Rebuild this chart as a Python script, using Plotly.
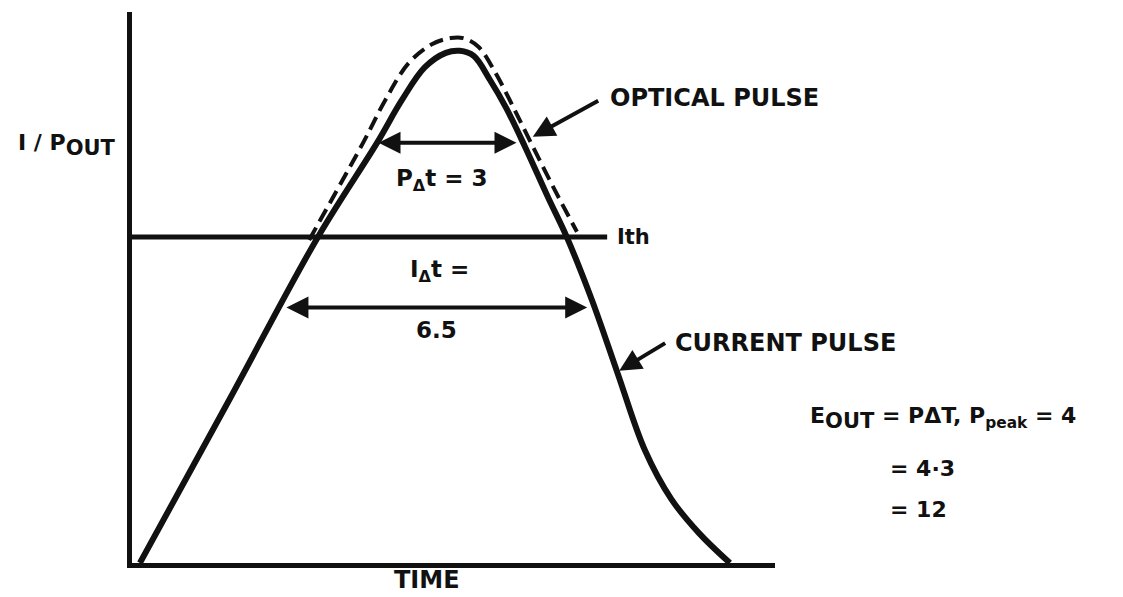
import plotly.graph_objects as go

# pulse shapes (time units, arbitrary current/power units)
current_t = [0.17, 2.09, 4.00, 5.27, 5.80, 6.30, 6.75, 7.05, 7.35, 7.70, 8.05, 8.45,
             8.95, 9.35, 9.89, 10.45, 11.03, 11.60, 12.20, 12.86]
current_i = [0.0, 3.19, 6.38, 8.22, 9.05, 9.70, 9.98, 10.02, 9.92, 9.45, 8.90, 8.15,
             7.15, 6.38, 5.15, 3.70, 2.21, 1.25, 0.58, 0.0]

optical_t = [3.81, 4.97, 5.45, 5.95, 6.45, 6.85, 7.12, 7.45, 7.80, 8.20, 8.62,
             9.12, 9.57]
optical_p = [6.32, 8.22, 9.06, 9.78, 10.15, 10.27, 10.27, 10.10, 9.62, 8.92, 8.15,
             7.25, 6.48]

ith_level = 6.38
ith_end = 10.22

p_start, p_dt, p_level = 5.27, 3.0, 8.22
i_start, i_dt, i_level = 3.29, 6.5, 5.0

x_max = 13.83
y_max = 10.78

FONT = "DejaVu Sans"
BLACK = "#111111"

fig = go.Figure()

fig.add_trace(go.Scatter(
    x=optical_t, y=optical_p, mode="lines",
    line=dict(color=BLACK, width=4, dash="14px,7px", shape="spline", smoothing=1.0),
    hoverinfo="skip"
))
fig.add_trace(go.Scatter(
    x=current_t, y=current_i, mode="lines",
    line=dict(color=BLACK, width=6, shape="spline", smoothing=1.0),
    hoverinfo="skip"
))
fig.add_trace(go.Scatter(
    x=[0, ith_end], y=[ith_level, ith_level], mode="lines",
    line=dict(color=BLACK, width=5), hoverinfo="skip"
))


def txt(x, y, text, size=22, xanchor="center", yanchor="middle"):
    # paper coordinates so labels outside the axes still show
    fig.add_annotation(x=x / x_max, y=y / y_max, xref="paper", yref="paper", text=text,
                       showarrow=False, xanchor=xanchor, yanchor=yanchor,
                       font=dict(family=FONT, size=size, color=BLACK, weight="bold"))


def arrow(x0, y0, x1, y1, both=False):
    fig.add_annotation(x=x1, y=y1, ax=x0, ay=y0, xref="x", yref="y", axref="x", ayref="y",
                       text="", showarrow=True, arrowhead=2, arrowsize=1.1, arrowwidth=4,
                       arrowcolor=BLACK, arrowside="end+start" if both else "end")


# width arrows
arrow(p_start, p_level, p_start + p_dt, p_level, both=True)
arrow(i_start, i_level, i_start + i_dt, i_level, both=True)

txt(6.67, 7.50, "P<sub>Δ</sub>t = 3", size=23)
txt(6.62, 5.72, "I<sub>Δ</sub>t =", size=23)
txt(6.56, 4.56, "6.5", size=23)

txt(ith_end + 0.17, ith_level, "Ith", size=21, xanchor="left")

# pointer labels
arrow(10.06, 9.06, 8.62, 8.34)
txt(10.24, 9.10, "OPTICAL PULSE", size=24, xanchor="left")
arrow(11.50, 4.32, 10.48, 3.76)
txt(11.63, 4.31, "CURRENT PULSE", size=24, xanchor="left")

# axis titles
txt(-0.30, 8.18, "I / P<sub><span style='font-size:21px'>OUT</span></sub>", xanchor="right")
txt(6.34, -0.33, "TIME", size=24)

# energy note
txt(14.54, 2.84, "E<sub><span style='font-size:21px'>OUT</span></sub> = PΔT, P<sub>peak</sub> = 4",
    xanchor="left")
txt(16.26, 1.84, "= 4·3", xanchor="left")
txt(16.26, 1.04, "= 12", xanchor="left")

axis_common = dict(showgrid=False, zeroline=False, showticklabels=False, ticks="",
                   showline=True, linewidth=5, linecolor=BLACK, fixedrange=True)

# page body adds ~8px offset, margins compensate for it
fig.update_layout(
    width=1123, height=597,
    margin=dict(l=124, r=356, t=4, b=42),
    paper_bgcolor="white", plot_bgcolor="white",
    showlegend=False,
    xaxis=dict(range=[0, x_max], **axis_common),
    yaxis=dict(range=[0, y_max], **axis_common),
)

fig.write_html("out.html")
